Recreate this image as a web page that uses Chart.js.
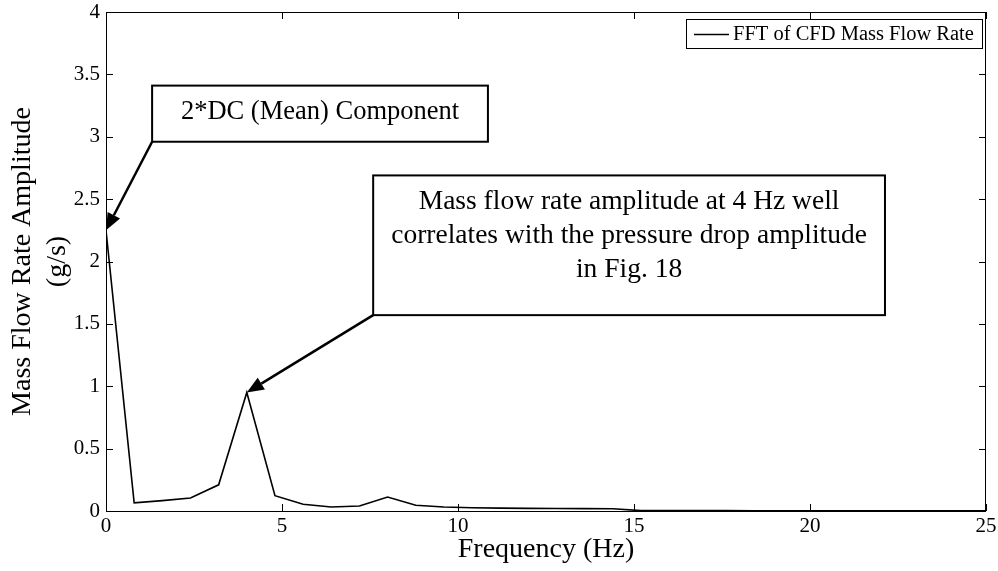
<!DOCTYPE html>
<html>
<head>
<meta charset="utf-8">
<script src="https://cdn.jsdelivr.net/npm/chart.js@4"></script>
<style>
  html, body { margin: 0; padding: 0; background: #fff; }
  #wrap { width: 998px; height: 571px; }
</style>
</head>
<body>
<div id="wrap"><canvas id="fft"></canvas></div>
<script>
// spectrum of the CFD mass flow rate (0.8 Hz bins)
const freq = [0, 0.8, 1.6, 2.4, 3.2, 4.0, 4.8, 5.6, 6.4, 7.2, 8.0, 8.8, 9.6, 10.4, 11.2, 12.0, 12.8,
  13.6, 14.4, 15.2, 16.0, 16.8, 17.6, 18.4, 19.2, 20.0, 20.8, 21.6, 22.4, 23.2, 24.0, 24.8, 25.6];
const amplitude = [2.25, 0.065, 0.083, 0.104, 0.21, 0.95, 0.123, 0.054, 0.032, 0.04, 0.112, 0.046, 0.032,
  0.026, 0.023, 0.021, 0.02, 0.019, 0.018, 0.003, 0.003, 0.003, 0.003, 0.002, 0.002, 0.002, 0.002, 0.002,
  0.002, 0.002, 0.002, 0.002, 0.002];
const xTickValues = [0, 5, 10, 15, 20, 25];
const yTickValues = [0, 0.5, 1, 1.5, 2, 2.5, 3, 3.5, 4];
const seriesLabel = 'FFT of CFD Mass Flow Rate';

// text boxes with an arrow to a point of the series (box edges in axis units)
const notes = [
  { lines: ['2*DC (Mean) Component'], x0: 1.31, x1: 10.85, y0: 3.41, y1: 2.96, target: 0, size: 26.5 },
  { lines: ['Mass flow rate amplitude at 4 Hz well', 'correlates with the pressure drop amplitude', 'in Fig. 18'],
    x0: 7.59, x1: 22.13, y0: 2.69, y1: 1.57, target: 5, size: 27.5 }
];

const SERIF = '"Liberation Serif", "Times New Roman", serif';

function arrow(ctx, x0, y0, x1, y1) {
  const a = Math.atan2(y1 - y0, x1 - x0);
  const len = 17, half = 7;
  const bx = x1 - len * Math.cos(a), by = y1 - len * Math.sin(a);
  ctx.beginPath();
  ctx.moveTo(x0, y0);
  ctx.lineTo(bx, by);
  ctx.stroke();
  ctx.beginPath();
  ctx.moveTo(x1, y1);
  ctx.lineTo(bx + half * Math.sin(a), by - half * Math.cos(a));
  ctx.lineTo(bx - half * Math.sin(a), by + half * Math.cos(a));
  ctx.closePath();
  ctx.fill();
}

const matlabFrame = {
  id: 'matlabFrame',
  afterDatasetsDraw(chart) {
    const { ctx, chartArea: a, scales: { x, y } } = chart;
    ctx.save();
    ctx.strokeStyle = '#000';
    ctx.fillStyle = '#000';

    // axes box and inward ticks on all four sides
    ctx.lineWidth = 1;
    ctx.strokeRect(a.left + 0.5, a.top + 0.5, a.right - a.left - 1, a.bottom - a.top);
    const tl = 7;
    ctx.beginPath();
    xTickValues.forEach(v => {
      const px = Math.round(x.getPixelForValue(v)) + 0.5;
      ctx.moveTo(px, a.bottom); ctx.lineTo(px, a.bottom - tl);
      ctx.moveTo(px, a.top); ctx.lineTo(px, a.top + tl);
    });
    yTickValues.forEach(v => {
      const py = Math.round(y.getPixelForValue(v)) + 0.5;
      ctx.moveTo(a.left, py); ctx.lineTo(a.left + tl, py);
      ctx.moveTo(a.right, py); ctx.lineTo(a.right - tl, py);
    });
    ctx.stroke();

    // legend
    const ds = chart.data.datasets[0];
    const lx0 = 686, ly0 = 19, lx1 = 982, ly1 = 48;
    ctx.fillStyle = '#fff';
    ctx.fillRect(lx0, ly0, lx1 - lx0, ly1 - ly0);
    ctx.strokeRect(lx0 + 0.5, ly0 + 0.5, lx1 - lx0, ly1 - ly0);
    ctx.strokeStyle = ds.borderColor;
    ctx.lineWidth = ds.borderWidth;
    ctx.beginPath();
    ctx.moveTo(lx0 + 8, (ly0 + ly1) / 2 + 1);
    ctx.lineTo(lx0 + 43, (ly0 + ly1) / 2 + 1);
    ctx.stroke();
    ctx.fillStyle = '#000';
    ctx.font = '20.5px ' + SERIF;
    ctx.textBaseline = 'middle';
    ctx.textAlign = 'left';
    ctx.fillText(ds.label, lx0 + 47, (ly0 + ly1) / 2 + 1);

    // annotations
    ctx.strokeStyle = '#000';
    ctx.textAlign = 'center';
    notes.forEach(n => {
      const bl = x.getPixelForValue(n.x0), br = x.getPixelForValue(n.x1);
      const bt = y.getPixelForValue(n.y0), bb = y.getPixelForValue(n.y1);
      ctx.lineWidth = 2;
      ctx.strokeRect(bl, bt, br - bl, bb - bt);
      ctx.font = n.size + 'px ' + SERIF;
      n.lines.forEach((t, i) => ctx.fillText(t, (bl + br) / 2, bt + 26 + i * 34));
      ctx.lineWidth = 2.5;
      const tx = x.getPixelForValue(freq[n.target]);
      const ty = y.getPixelForValue(amplitude[n.target]);
      arrow(ctx, bl, bb, tx, ty);
    });
    ctx.restore();
  }
};

new Chart(document.getElementById('fft'), {
  type: 'line',
  data: {
    datasets: [{
      label: seriesLabel,
      data: freq.map((f, i) => ({ x: f, y: amplitude[i] })),
      borderColor: '#000',
      borderWidth: 1.6,
      pointRadius: 0,
      tension: 0,
      fill: false
    }]
  },
  options: {
    responsive: true,
    maintainAspectRatio: false,
    animation: false,
    layout: { padding: { top: 12, right: 12, left: 0, bottom: 0 } },
    plugins: { legend: { display: false }, tooltip: { enabled: false } },
    scales: {
      x: {
        type: 'linear',
        min: 0,
        max: 25,
        afterBuildTicks: s => { s.ticks = xTickValues.map(v => ({ value: v })); },
        afterFit: s => { s.height = 60; s.paddingLeft = 0; s.paddingRight = 0; },
        grid: { display: false, drawTicks: false },
        border: { display: false },
        ticks: { color: '#000', padding: 3, maxRotation: 0, callback: v => String(v), font: { family: SERIF, size: 21 } },
        title: {
          display: true,
          text: 'Frequency (Hz)',
          color: '#000',
          padding: { top: 0, bottom: 4 },
          font: { family: SERIF, size: 28, lineHeight: 1.23 }
        }
      },
      y: {
        min: 0,
        max: 4,
        afterBuildTicks: s => { s.ticks = yTickValues.map(v => ({ value: v })); },
        afterFit: s => { s.width = 106; s.paddingTop = 0; s.paddingBottom = 0; },
        grid: { display: false, drawTicks: false },
        border: { display: false },
        ticks: { color: '#000', padding: 6, callback: v => String(v), font: { family: SERIF, size: 21 } },
        title: {
          display: true,
          text: ['Mass Flow Rate Amplitude', '(g/s)'],
          color: '#000',
          padding: { top: 5, bottom: 0 },
          font: { family: SERIF, size: 28, lineHeight: 1.25 }
        }
      }
    }
  },
  plugins: [matlabFrame]
});
</script>
</body>
</html>
